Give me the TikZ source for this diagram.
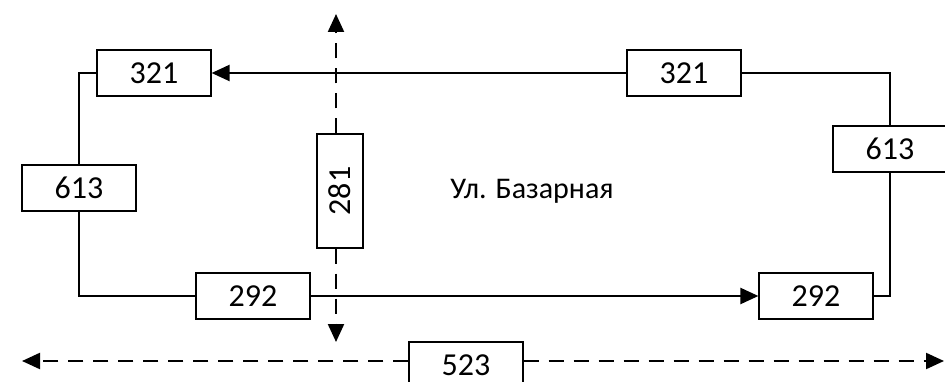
\documentclass[tikz,border=0pt]{standalone}
\usepackage{fontspec}
\setmainfont{Carlito}
\usetikzlibrary{arrows.meta}
\begin{document}
\begin{tikzpicture}[x=1pt,y=-1pt,
  box/.style={draw,line width=1.2pt,fill=white,minimum width=114pt,minimum height=46pt,inner sep=0pt,font=\fontsize{32}{36}\selectfont},
  road/.style={line width=2.2pt},
  dline/.style={line width=2.2pt,dash pattern=on 15pt off 10pt},
  tip/.style={-{Triangle[length=18pt,width=16pt]}}]
\useasboundingbox (0,0) rectangle (945,382);
\node[box] (l321) at (154,73) {321};
\node[box] (r321) at (684,73) {321};
\node[box] (l613) at (79,188) {613};
\node[box] (r613) at (890,149) {613};
\node[box] (l292) at (253,296) {292};
\node[box] (r292) at (816,296) {292};
\node[box,rotate=90] (v281) at (340,191) {281};
\node[box] (b523) at (466,365) {523};
\node[font=\fontsize{30}{34}\selectfont] (street) at (532,191) {Ул. Базарная};
\coordinate (ntop) at (336,14);
\coordinate (nbot) at (336,342);
\coordinate (wend) at (22,361);
\coordinate (eend) at (944,361);
% solid loop
\draw[road,tip] (r321.west) -- (l321.east);
\draw[road] (l321.west) -| (l613.north);
\draw[road] (l613.south) |- (l292.west);
\draw[road,tip] (l292.east) -- (r292.west);
\draw[road] (r292.east) -| (r613.south);
\draw[road] (r613.north) |- (r321.east);
% dashed
\draw[dline,tip] (v281.east -| ntop) -- (ntop);
\draw[dline,tip] (v281.west -| nbot) -- (nbot);
\draw[dline,tip] (b523.west |- wend) -- (wend);
\draw[dline,tip] (b523.east |- eend) -- (eend);
\end{tikzpicture}
\end{document}
